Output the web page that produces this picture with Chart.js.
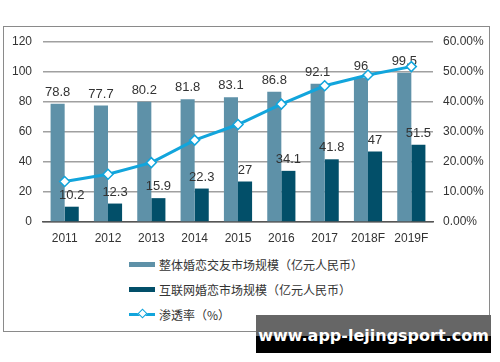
<!DOCTYPE html>
<html>
<head>
<meta charset="utf-8">
<script src="https://cdn.jsdelivr.net/npm/chart.js@4"></script>
<style>
  body { margin: 0; background: #fff; width: 500px; height: 362px; position: relative; overflow: hidden; }
  #frame { position: absolute; left: 3px; top: 26px; width: 485px; height: 304px; border: 1px solid #8a8a8a; }
  #wrap { position: absolute; left: 0; top: 0; width: 500px; height: 250px; }
  #legend { position: absolute; left: 129px; top: 252px; font-family: "Noto Sans CJK SC", sans-serif; font-size: 12px; color: #333; }
  .row { height: 25px; display: flex; align-items: center; }
  .sw { width: 26px; height: 5px; margin-right: 4px; position: relative; }
  .ln { width: 26px; height: 3px; margin-right: 4px; position: relative; }
  .ln i { position: absolute; left: 10px; top: -3px; width: 5px; height: 5px; background: #fff; border: 1px solid #12a5dc; transform: rotate(45deg); }
  #wm1 { position: absolute; left: 256px; top: 315px; width: 235px; height: 21px; background: #666; }
  #wm2 { position: absolute; left: 256px; top: 336px; width: 235px; height: 17px; background: #000; }
  #wmt { position: absolute; left: 256px; top: 323px; width: 235px; text-align: center; color: #fff;
         font-family: "DejaVu Sans", sans-serif; font-weight: bold; font-size: 16px; line-height: 26px; }
</style>
</head>
<body>
<div id="frame"></div>
<div id="wrap"><canvas id="myChart"></canvas></div>
<div id="legend"></div>
<div id="wm1"></div><div id="wm2"></div>
<div id="wmt">www.app-lejingsport.com</div>
<script>
const years = ['2011', '2012', '2013', '2014', '2015', '2016', '2017', '2018F', '2019F'];
const totalMarket = [78.8, 77.7, 80.2, 81.8, 83.1, 86.8, 92.1, 96, 99.5];
const onlineMarket = [10.2, 12.3, 15.9, 22.3, 27, 34.1, 41.8, 47, 51.5];
const penetration = [13.5, 15.9, 19.8, 27.3, 32.5, 39.3, 45.4, 49.0, 51.8];
const leftTicks = [0, 20, 40, 60, 80, 100, 120];
const rightTicks = [0, 10, 20, 30, 40, 50, 60];

const seriesNames = ['整体婚恋交友市场规模（亿元人民币）', '互联网婚恋市场规模（亿元人民币）', '渗透率（%）'];
const lightBlue = '#5e91a8';
const darkBlue = '#024f69';
const lineBlue = '#12a5dc';

// value labels above the bars: drawn once both bar sets are painted, before the line
let barsDone = 0;
const barLabels = {
    id: 'barLabels',
    beforeDatasetsDraw() { barsDone = 0; },
    afterDatasetDraw(chart, args) {
        if (args.index === 0) return;
        barsDone++;
        if (barsDone < 2) return;
        const c = chart.ctx;
        c.save();
        c.font = '13px "Liberation Sans", Arial, sans-serif';
        c.fillStyle = '#333';
        c.textAlign = 'center';
        c.textBaseline = 'bottom';
        [1, 2].forEach(di => {
            chart.getDatasetMeta(di).data.forEach((bar, i) => {
                c.fillText(String(chart.data.datasets[di].data[i]), bar.x, bar.y - 5);
            });
        });
        c.restore();
    }
};

const tickFont = { family: '"Liberation Sans", Arial, sans-serif', size: 12 };

const ctx = document.getElementById('myChart').getContext('2d');
const myChart = new Chart(ctx, {
    data: {
        labels: years,
        datasets: [{
            type: 'line',
            label: seriesNames[2],
            data: penetration,
            yAxisID: 'y1',
            borderColor: lineBlue,
            borderWidth: 3,
            pointStyle: 'rectRot',
            pointRadius: 5,
            pointBorderWidth: 1.5,
            pointBackgroundColor: '#fff',
            pointBorderColor: lineBlue,
            order: 0
        }, {
            type: 'bar',
            label: seriesNames[0],
            data: totalMarket,
            backgroundColor: lightBlue,
            yAxisID: 'y',
            categoryPercentage: 0.65,
            barPercentage: 1,
            order: 1
        }, {
            type: 'bar',
            label: seriesNames[1],
            data: onlineMarket,
            backgroundColor: darkBlue,
            yAxisID: 'y',
            categoryPercentage: 0.65,
            barPercentage: 1,
            order: 1
        }]
    },
    options: {
        responsive: true,
        maintainAspectRatio: false,
        animation: false,
        layout: { padding: { top: 42, left: 0, right: 0, bottom: 0 } },
        plugins: { legend: { display: false }, tooltip: { enabled: false } },
        scales: {
            x: {
                afterFit: s => { s.height = 28; },
                grid: { display: false, drawTicks: false },
                border: { display: true, color: '#555', width: 1.5 },
                ticks: { color: '#333', font: tickFont, padding: 9, maxRotation: 0 }
            },
            y: {
                position: 'left',
                min: 0, max: 120,
                afterFit: s => { s.width = 43; },
                afterBuildTicks: s => { s.ticks = leftTicks.map(v => ({ value: v })); },
                grid: { color: '#a0a0a0', drawTicks: false, lineWidth: 1.5 },
                border: { display: false },
                ticks: { color: '#333', font: tickFont, padding: 11 }
            },
            y1: {
                position: 'right',
                min: 0, max: 60,
                afterFit: s => { s.width = 67; },
                afterBuildTicks: s => { s.ticks = rightTicks.map(v => ({ value: v })); },
                grid: { display: false, drawTicks: false },
                border: { display: false },
                ticks: { color: '#333', font: tickFont, padding: 10, callback: v => v.toFixed(2) + '%' }
            }
        }
    },
    plugins: [barLabels]
});

// legend
const legend = document.getElementById('legend');
[[seriesNames[0], lightBlue, 'bar'], [seriesNames[1], darkBlue, 'bar'], [seriesNames[2], lineBlue, 'line']].forEach(([name, col, kind]) => {
    const row = document.createElement('div');
    row.className = 'row';
    const sw = document.createElement('div');
    sw.className = kind === 'bar' ? 'sw' : 'ln';
    sw.style.background = col;
    if (kind === 'line') sw.appendChild(document.createElement('i'));
    const t = document.createElement('span');
    t.textContent = name;
    row.appendChild(sw);
    row.appendChild(t);
    legend.appendChild(row);
});
</script>
</body>
</html>
